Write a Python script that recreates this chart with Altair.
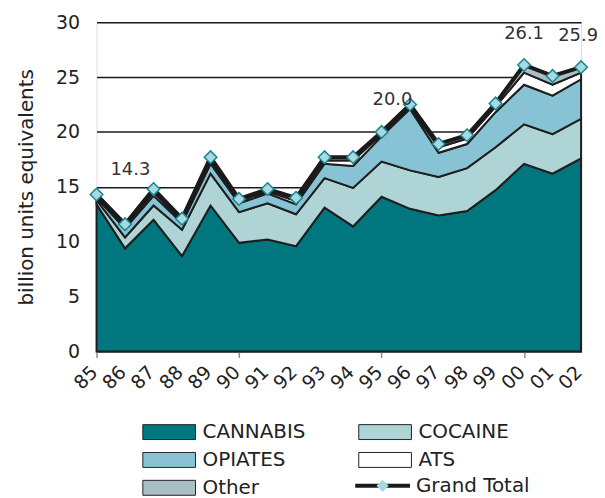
import altair as alt
import pandas as pd

years = ["85", "86", "87", "88", "89", "90", "91", "92", "93", "94",
         "95", "96", "97", "98", "99", "00", "01", "02"]
cannabis = [13.4, 9.4, 12.0, 8.7, 13.3, 9.9, 10.2, 9.6, 13.1, 11.4,
            14.1, 13.0, 12.4, 12.8, 14.7, 17.1, 16.2, 17.6]
cocaine = [0.4, 1.0, 1.3, 2.4, 2.9, 2.8, 3.3, 2.9, 2.7, 3.5,
           3.2, 3.5, 3.5, 3.9, 3.9, 3.6, 3.6, 3.6]
opiates = [0.2, 0.8, 0.9, 0.6, 0.9, 0.8, 0.9, 0.9, 1.3, 2.0,
           2.3, 5.6, 2.2, 2.2, 3.2, 3.6, 3.5, 3.6]
ats = [0.1, 0.2, 0.3, 0.2, 0.3, 0.2, 0.2, 0.3, 0.3, 0.5,
       0.2, 0.2, 0.5, 0.5, 0.5, 1.1, 1.0, 0.6]
other = [0.2, 0.2, 0.3, 0.2, 0.3, 0.2, 0.2, 0.3, 0.3, 0.3,
         0.2, 0.2, 0.3, 0.3, 0.3, 0.7, 0.8, 0.5]
grand_total = [14.3, 11.6, 14.8, 12.1, 17.7, 13.9, 14.8, 14.0, 17.7, 17.7,
               20.0, 22.5, 18.9, 19.7, 22.6, 26.1, 25.1, 25.9]

series_names = ["CANNABIS", "COCAINE", "OPIATES", "ATS", "Other"]
series_colors = ["#00777e", "#afd4d5", "#88c3d5", "#ffffff", "#a9bfc4"]

label_years = ["85", "95", "00", "02"]
label_texts = ["14.3", "20.0", "26.1", "25.9"]
label_values = [14.3, 20.0, 26.1, 25.9]

FONT = "DejaVu Sans"

rows = []
for k, (name, vals) in enumerate(zip(series_names, [cannabis, cocaine, opiates, ats, other])):
    for i, yr in enumerate(years):
        rows.append({"year": yr, "series": name, "value": vals[i], "ord": k})
area_df = pd.DataFrame(rows)
total_df = pd.DataFrame({"year": years, "total": grand_total,
                         "series": ["Grand Total"] * len(years),
                         "mk": [" Grand Total"] * len(years)})
lab_df = pd.DataFrame({"year": label_years, "value": label_values, "text": label_texts})

x_enc = alt.X(
    "year:O", sort=years,
    scale=alt.Scale(type="point", padding=0),
    axis=alt.Axis(
        title=None, labelAngle=-45, labelFontSize=19, labelFont=FONT,
        labelColor="#222222", domainColor="#8c8c8c", domainWidth=1.5,
        tickColor="#8c8c8c", tickSize=6, tickWidth=1.5, labelPadding=5, labelOffset=-9,
        tickOpacity={"condition": {"test": "indexof(['85','90','95','00'], datum.value) >= 0", "value": 1}, "value": 0},
        grid=False,
    ),
)
y_scale = alt.Scale(domain=[0, 30], nice=False)

area = alt.Chart(area_df).mark_area(
    stroke="#1e1e1e", strokeWidth=2, strokeJoin="miter", opacity=1
).encode(
    x=x_enc,
    y=alt.Y("value:Q", stack="zero", scale=y_scale,
            axis=alt.Axis(values=[0, 5, 10, 15, 20, 25, 30], grid=True, gridColor="#1a1a1a",
                          gridWidth=1.5, domain=False, ticks=False, labelFontSize=19,
                          labelFont=FONT, labelColor="#222222", labelPadding=17,
                          title="billion units equivalents", titleFont=FONT, titleFontSize=20,
                          titleFontWeight="normal", titleColor="#222222", titlePadding=19)),
    fill=alt.Fill("series:N", scale=alt.Scale(domain=series_names, range=series_colors),
                  legend=alt.Legend(
                      title=None, orient="none", legendX=63, legendY=402, columns=2,
                      direction="horizontal",
                      columnPadding=50, rowPadding=8, padding=0,
                      symbolType="M-3.53,-1H3.53V1H-3.53Z", symbolSize=225,
                      symbolStrokeColor="#222222", symbolStrokeWidth=1,
                      labelFont=FONT, labelFontSize=20, labelColor="#222222",
                      labelOffset=23.5, labelLimit=300)),
    order=alt.Order("ord:Q", sort="ascending"),
)

line = alt.Chart(total_df).mark_line(strokeWidth=4).encode(
    x=x_enc,
    y=alt.Y("total:Q", scale=y_scale),
    stroke=alt.Stroke("series:N", scale=alt.Scale(domain=["Grand Total"], range=["#1a1a1a"]),
                      legend=alt.Legend(
                          title=None, orient="none", legendX=277.5, legendY=456, padding=0,
                          symbolType="M-3.67,0H3.67", symbolSize=225, symbolStrokeWidth=4,
                          symbolStrokeColor="#1a1a1a", symbolFillColor="transparent",
                          labelFont=FONT, labelFontSize=20, labelColor="#222222",
                          labelOffset=23.5, labelLimit=300)),
)

points = alt.Chart(total_df).mark_point(
    filled=True, fill="#a8d8e1", stroke="#17868f", strokeWidth=1.5, size=160, opacity=1
).encode(
    x=x_enc,
    y=alt.Y("total:Q", scale=y_scale),
    shape=alt.Shape("mk:N", scale=alt.Scale(domain=[" Grand Total"], range=["diamond"]),
                    legend=alt.Legend(
                        title=None, orient="none", legendX=280.5, legendY=459, padding=0,
                        symbolSize=150, symbolFillColor="#a8d8e1", symbolStrokeColor="#17868f",
                        symbolStrokeWidth=1.5, labelExpr="''",
                        labelFont=FONT, labelFontSize=2, labelLimit=10)),
)

def label_layer(yr, dx, dy):
    return alt.Chart(lab_df).transform_filter(
        alt.FieldOneOfPredicate(field="year", oneOf=yr)
    ).mark_text(font=FONT, fontSize=18, color="#333333", dx=dx, dy=dy).encode(
        x=x_enc, y=alt.Y("value:Q", scale=y_scale), text="text:N")

labels = alt.layer(
    label_layer(["85"], 34, -25),
    label_layer(["95"], 11, -32),
    label_layer(["00"], 0, -31),
    label_layer(["02"], -3, -31),
)

chart = alt.layer(area, line, points, labels).resolve_scale(
    fill="independent", stroke="independent", shape="independent"
).properties(
    width=487, height=331,
    autosize=alt.AutoSizeParams(type="none"),
    padding={"left": 89, "top": 13, "right": 16, "bottom": 146},
).configure_view(stroke=None).configure(background="white")

chart.save("out.html", embed_options={"renderer": "svg", "actions": False})
